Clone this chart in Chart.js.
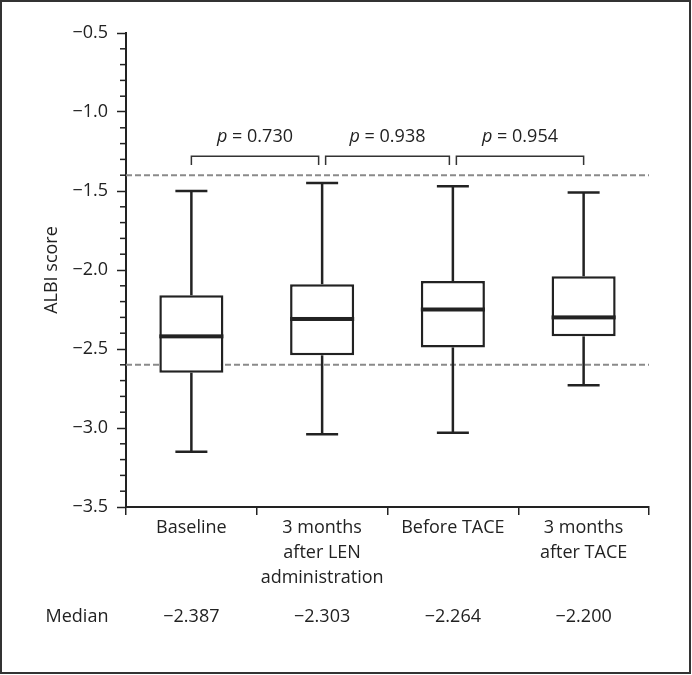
<!DOCTYPE html>
<html><head><meta charset="utf-8">
<script src="https://cdn.jsdelivr.net/npm/chart.js@4/dist/chart.umd.min.js"></script>
<style>html,body{margin:0;padding:0;background:#fff}#wrap{width:692px;height:675px;position:relative}canvas{display:block}</style>
</head><body><div id="wrap"><canvas id="c" width="692" height="675"></canvas></div>
<script>
// ---- data ----
const categories = [['Baseline'], ['3 months', 'after LEN', 'administration'], ['Before TACE'], ['3 months', 'after TACE']];
const whiskerMax = [-1.50, -1.45, -1.47, -1.51];
const q3 = [-2.16, -2.09, -2.07, -2.04];
const medianLine = [-2.42, -2.31, -2.25, -2.30];
const q1 = [-2.65, -2.54, -2.49, -2.42];
const whiskerMin = [-3.15, -3.04, -3.03, -2.73];
const medianLabels = ['\u22122.387', '\u22122.303', '\u22122.264', '\u22122.200'];
const pValues = ['0.730', '0.938', '0.954'];
const refLines = [-1.4, -2.6];
const yTicksMajor = [-3.5, -3.0, -2.5, -2.0, -1.5, -1.0, -0.5];

const FAM = "'Open Sans', sans-serif";
const FS = 18;
const INK = '#222';
Chart.defaults.font.family = FAM;
Chart.defaults.font.size = FS;
Chart.defaults.color = INK;

function fmt(v) { return (v < 0 ? '\u2212' : '') + Math.abs(v).toFixed(1); }
function isMajor(v) { return yTicksMajor.some(t => Math.abs(t - v) < 1e-6); }

const extras = {
  id: 'extras',
  beforeDraw(chart) {
    const c = chart.ctx;
    c.save();
    c.fillStyle = '#fff'; c.fillRect(0, 0, chart.width, chart.height);
    c.strokeStyle = '#333'; c.lineWidth = 2; c.strokeRect(1, 1, 689, 672);
    c.restore();
  },
  beforeDatasetsDraw(chart) {
    const { ctx, chartArea: a, scales: { y } } = chart;
    ctx.save();
    ctx.strokeStyle = INK; ctx.lineWidth = 1.5;
    for (let k = -35; k <= -5; k++) {
      if (k % 5 === 0) continue;
      const py = y.getPixelForValue(k / 10);
      ctx.beginPath(); ctx.moveTo(a.left - 6, py); ctx.lineTo(a.left, py); ctx.stroke();
    }
    ctx.strokeStyle = '#8a8a8a'; ctx.lineWidth = 2; ctx.setLineDash([6, 3]);
    refLines.forEach(v => {
      const py = y.getPixelForValue(v);
      ctx.beginPath(); ctx.moveTo(a.left, py); ctx.lineTo(a.right, py); ctx.stroke();
    });
    ctx.restore();
  },
  afterDatasetsDraw(chart) {
    const { ctx, scales: { x, y } } = chart;
    const meta = chart.getDatasetMeta(0);
    ctx.save();
    ctx.strokeStyle = INK; ctx.fillStyle = INK; ctx.lineWidth = 2.5;
    categories.forEach((_, i) => {
      const cx = x.getPixelForValue(i);
      const w = meta.data[i].width;
      const cap = 16;
      const segs = [[q3[i], whiskerMax[i]], [q1[i], whiskerMin[i]]];
      segs.forEach(([from, to]) => {
        const p0 = y.getPixelForValue(from), p1 = y.getPixelForValue(to);
        ctx.beginPath(); ctx.moveTo(cx, p0); ctx.lineTo(cx, p1); ctx.stroke();
        ctx.beginPath(); ctx.moveTo(cx - cap, p1); ctx.lineTo(cx + cap, p1); ctx.stroke();
      });
      const pm = y.getPixelForValue(medianLine[i]);
      ctx.fillRect(cx - w / 2, pm - 2, w, 4);
    });
    const by = y.getPixelForValue(-1.28), legY = y.getPixelForValue(-1.335);
    ctx.strokeStyle = '#333'; ctx.lineWidth = 1.5;
    pValues.forEach((pv, i) => {
      const xa = x.getPixelForValue(i) + (i > 0 ? 3.5 : 0);
      const xb = x.getPixelForValue(i + 1) - (i + 1 < categories.length - 1 ? 3.5 : 0);
      ctx.beginPath(); ctx.moveTo(xa, legY); ctx.lineTo(xa, by); ctx.lineTo(xb, by); ctx.lineTo(xb, legY); ctx.stroke();
      const mid = (xa + xb) / 2;
      ctx.font = 'italic ' + FS + 'px ' + FAM; const wp = ctx.measureText('p').width;
      ctx.font = FS + 'px ' + FAM; const rest = ' = ' + pv; const wr = ctx.measureText(rest).width;
      const sx = mid - (wp + wr) / 2;
      ctx.textBaseline = 'middle'; ctx.textAlign = 'left'; ctx.fillStyle = INK;
      ctx.font = 'italic ' + FS + 'px ' + FAM; ctx.fillText('p', sx, by - 19);
      ctx.font = FS + 'px ' + FAM; ctx.fillText(rest, sx + wp, by - 19);
    });
    ctx.restore();
  },
  afterDraw(chart) {
    const { ctx, scales: { x } } = chart;
    ctx.save();
    ctx.font = FS + 'px ' + FAM; ctx.fillStyle = INK; ctx.textAlign = 'center'; ctx.textBaseline = 'middle';
    const rowY = 617;
    ctx.fillText('Median', 77, rowY);
    medianLabels.forEach((t, i) => ctx.fillText(t, x.getPixelForValue(i), rowY));
    ctx.restore();
  }
};

new Chart(document.getElementById('c'), {
  type: 'bar',
  data: {
    labels: categories,
    datasets: [{
      data: categories.map((_, i) => [q1[i], q3[i]]),
      backgroundColor: '#fff',
      borderColor: INK,
      borderWidth: 2.5,
      borderSkipped: false,
      barPercentage: 0.49,
      categoryPercentage: 1
    }]
  },
  options: {
    responsive: false,
    animation: false,
    devicePixelRatio: 1,
    layout: { padding: { top: 33, right: 43, left: 0, bottom: 0 } },
    plugins: { legend: { display: false }, tooltip: { enabled: false } },
    scales: {
      x: {
        type: 'category',
        offset: true,
        grid: { offset: true, drawOnChartArea: false, tickLength: 8, color: INK, lineWidth: 1.5 },
        border: { color: INK, width: 2 },
        ticks: { padding: 0, maxRotation: 0, autoSkip: false, font: { size: FS, lineHeight: 25 / FS }, color: INK },
        afterFit: s => { s.height = 168; }
      },
      y: {
        min: -3.5, max: -0.5,
        grid: { drawOnChartArea: false, tickLength: 9, tickWidth: 1.5,
                tickColor: ctx => (ctx.tick && isMajor(ctx.tick.value)) ? INK : 'rgba(0,0,0,0)' },
        border: { color: INK, width: 2 },
        ticks: { stepSize: 0.1, autoSkip: false, padding: 9, color: INK, font: { size: FS },
                 callback: v => isMajor(v) ? fmt(v) : '' },
        title: { display: true, text: 'ALBI score', color: INK, font: { size: FS }, padding: { top: 41, bottom: 0 } },
        afterFit: s => { s.width = 126; }
      }
    }
  },
  plugins: [extras]
});
</script>
</body></html>
